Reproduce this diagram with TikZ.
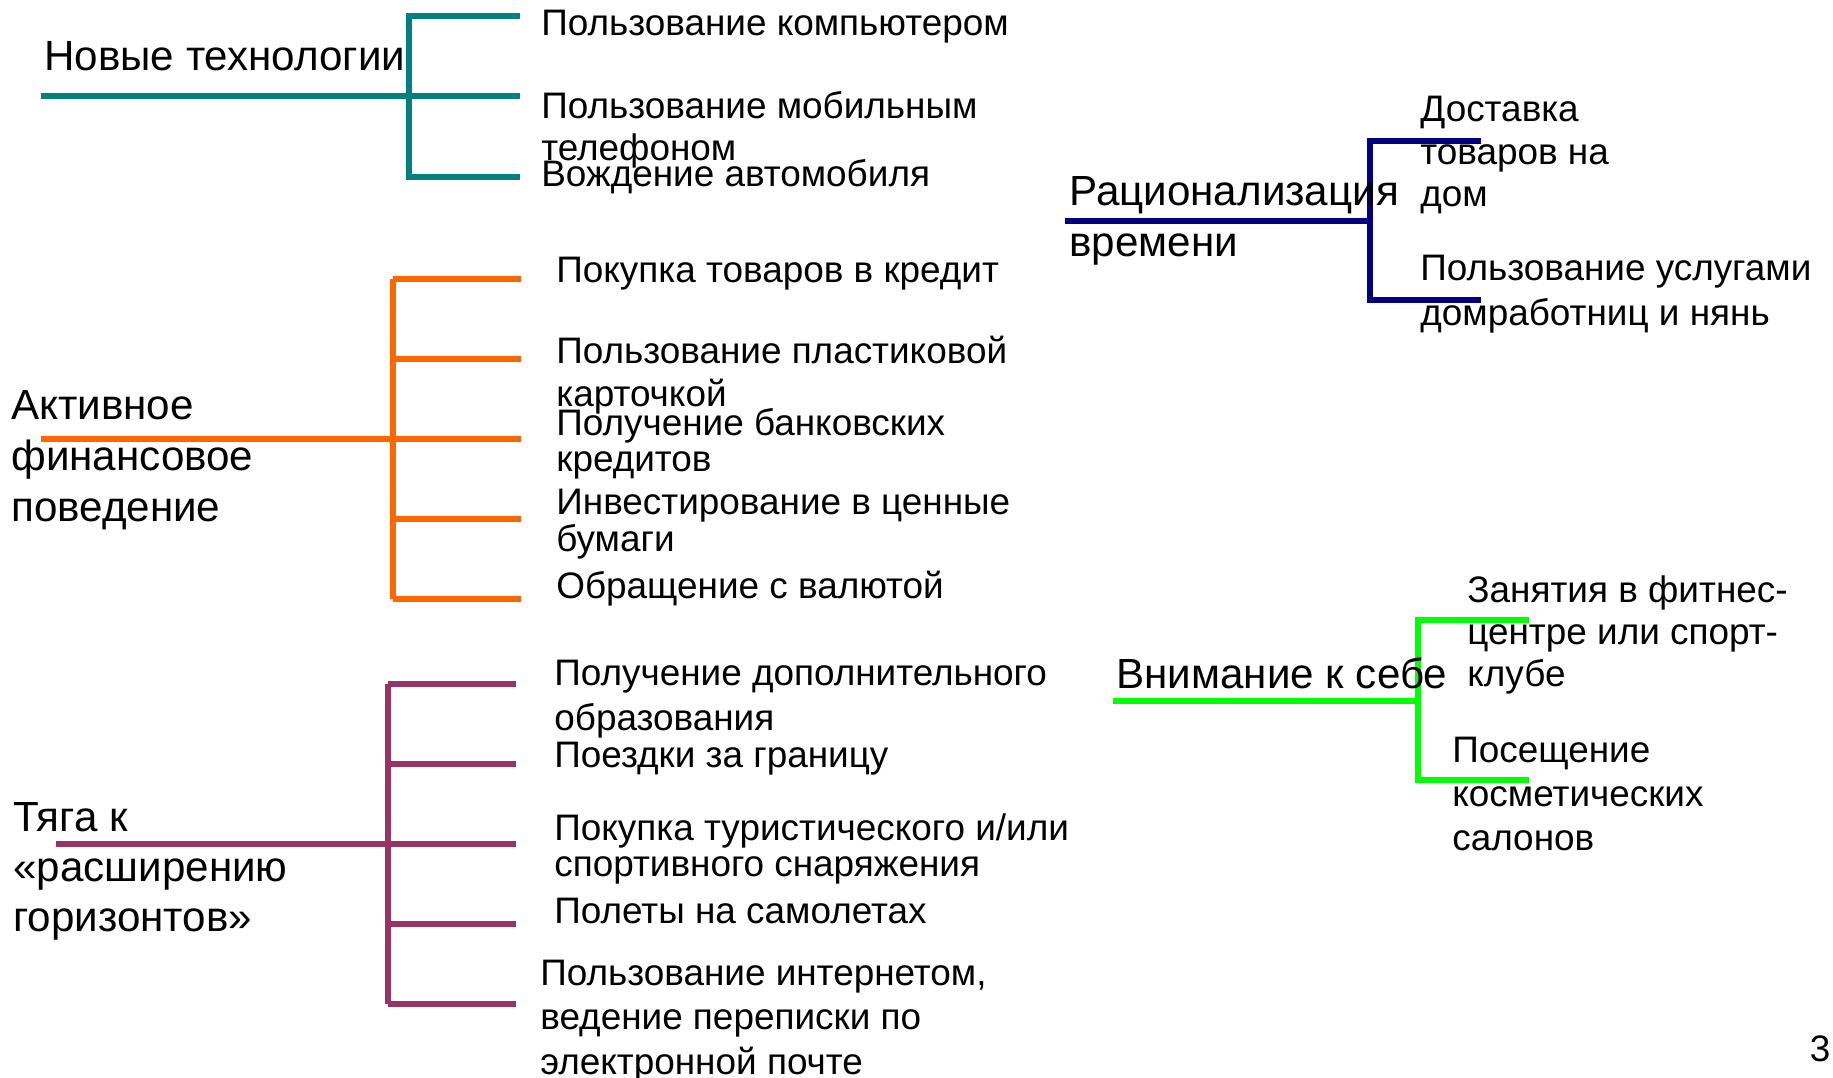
\documentclass[tikz,border=0pt]{standalone}
\usepackage{fontspec}
\setmainfont{Liberation Sans}
\usepackage{tikz}

\definecolor{techcol}{RGB}{0,128,128}
\definecolor{timecol}{RGB}{0,0,128}
\definecolor{fincol}{RGB}{255,102,0}
\definecolor{horcol}{RGB}{153,51,102}
\definecolor{selfcol}{RGB}{0,255,0}

\tikzset{
  head/.style={anchor=west,inner sep=0pt,align=left,yshift=-0.08cm,font=\fontsize{24}{29}\selectfont},
  item/.style={anchor=west,inner sep=0pt,align=left,yshift=-0.08cm,font=\fontsize{21}{24}\selectfont},
  bar/.style={line width=2.9pt}
}

\begin{document}
\begin{tikzpicture}[x=0.02cm,y=-0.02cm]
        \useasboundingbox (0,0) rectangle (1833,1078);
        % Новые технологии
        \coordinate (techL) at (41,96);
        \coordinate (techT) at (409,16);
        \coordinate (techM) at (409,96);
        \coordinate (techB) at (409,177);
        \coordinate (techE1) at (520,16);
        \coordinate (techE2) at (520,96);
        \coordinate (techE3) at (520,177);
        \draw [bar,techcol] (techL) -- (techE2);
        \draw [bar,techcol] (techE1) -- (techT) -- (techB) -- (techE3);
        \node [head] (tech) at (44,52) {Новые технологии};
        \node [item] (tech1) at (541,23) {Пользование компьютером};
        \node [item,font=\fontsize{21}{23.8}\selectfont] (tech2) at (541,126) {Пользование мобильным\\телефоном};
        \node [item] (tech3) at (541,173) {Вождение автомобиля};
        % Активное финансовое поведение
        \coordinate (finL) at (41,439);
        \coordinate (finT) at (393,279);
        \coordinate (finB) at (393,599);
        \foreach \y [count=\i] in {279,359,439,519,599} {
            \coordinate (finJ\i) at (393,\y);
            \coordinate (finE\i) at (521,\y);
            \draw [bar,fincol] (finJ\i) -- (finE\i);
        }
        \draw [bar,fincol] (finL) -- (finJ3);
        \draw [bar,fincol] (finT) -- (finB);
        \node [head,font=\fontsize{24}{29.2}\selectfont] (fin) at (11,456) {Активное\\финансовое\\поведение};
        \node [item] (fin1) at (556,270) {Покупка товаров в кредит};
        \node [item,font=\fontsize{21}{24.4}\selectfont] (fin2) at (556,371) {Пользование пластиковой\\карточкой};
        \node [item,font=\fontsize{21}{20.4}\selectfont] (fin3) at (556,440) {Получение банковских\\кредитов};
        \node [item,font=\fontsize{21}{19.3}\selectfont] (fin4) at (556,520) {Инвестирование в ценные\\бумаги};
        \node [item] (fin5) at (556,585) {Обращение с валютой};
        % Тяга к «расширению горизонтов»
        \coordinate (horL) at (56,844);
        \coordinate (horR) at (403,844);
        \coordinate (horT) at (388,684);
        \coordinate (horB) at (388,1004);
        \foreach \y [count=\i] in {684,764,844,924,1004} {
            \coordinate (horJ\i) at (388,\y);
            \coordinate (horE\i) at (516,\y);
            \draw [bar,horcol] (horJ\i) -- (horE\i);
        }
        \draw [bar,horcol] (horL) -- (horR);
        \draw [bar,horcol] (horT) -- (horB);
        \node [head,font=\fontsize{24}{28.4}\selectfont] (hor) at (13,867) {Тяга к\\«расширению\\горизонтов»};
        \node [item,font=\fontsize{21}{25.5}\selectfont] (hor1) at (554,695) {Получение дополнительного\\образования};
        \node [item] (hor2) at (554,755) {Поездки за границу};
        \node [item,font=\fontsize{21}{20.4}\selectfont] (hor3) at (554,845) {Покупка туристического и/или\\спортивного снаряжения};
        \node [item] (hor4) at (554,907) {Полеты на самолетах};
        \node [item,font=\fontsize{21}{25.2}\selectfont] (hor5) at (540,1017) {Пользование интернетом,\\ведение переписки по\\электронной почте};
        % Рационализация времени
        \coordinate (timeL) at (1065,221);
        \coordinate (timeM) at (1370,221);
        \coordinate (timeT) at (1370,141);
        \coordinate (timeB) at (1370,300);
        \coordinate (timeE1) at (1481,141);
        \coordinate (timeE2) at (1481,300);
        \draw [bar,timecol] (timeL) -- (timeM);
        \draw [bar,timecol] (timeE1) -- (timeT) -- (timeB) -- (timeE2);
        \node [head,font=\fontsize{24}{28.9}\selectfont] (time) at (1069,217) {Рационализация\\времени};
        \node [item,font=\fontsize{21}{24.4}\selectfont] (time1) at (1420,151) {Доставка\\товаров на\\дом};
        \node [item,font=\fontsize{21}{25.5}\selectfont] (time2) at (1420,290) {Пользование услугами\\домработниц и нянь};
        % Внимание к себе
        \coordinate (selfL) at (1113,701);
        \coordinate (selfM) at (1418,701);
        \coordinate (selfT) at (1418,620);
        \coordinate (selfB) at (1418,780);
        \coordinate (selfE1) at (1529,620);
        \coordinate (selfE2) at (1529,780);
        \draw [bar,selfcol] (selfL) -- (selfM);
        \draw [bar,selfcol] (selfE1) -- (selfT) -- (selfB) -- (selfE2);
        \node [head] (self) at (1116,669) {Внимание к себе};
        \node [item,font=\fontsize{21}{24.1}\selectfont] (self1) at (1467,631) {Занятия в фитнес-\\центре или спорт-\\клубе};
        \node [item,font=\fontsize{21}{25}\selectfont] (self2) at (1452,790) {Посещение\\косметических\\салонов};
        % номер слайда
        \node [inner sep=0pt,font=\fontsize{21}{24}\selectfont] (pnum) at (1820,1049) {3};
    \end{tikzpicture}
\end{document}
